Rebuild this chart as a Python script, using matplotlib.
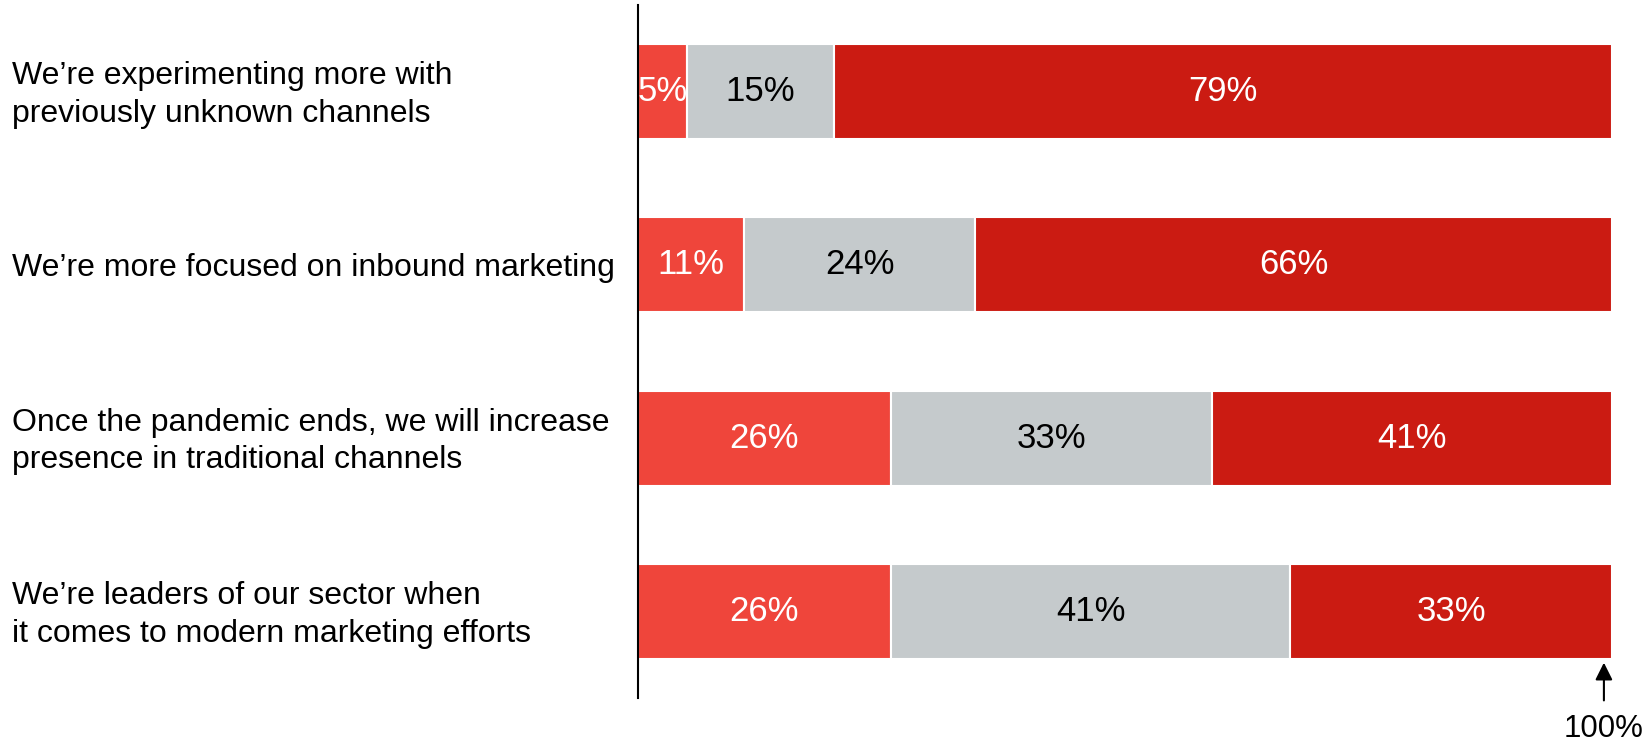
import matplotlib
matplotlib.use("Agg")
import matplotlib.pyplot as plt
import matplotlib.transforms as mtransforms
import pandas as pd

plt.rcParams['font.family'] = ['Liberation Sans', 'DejaVu Sans']

## Survey statements and answer shares (percent)
statements = [
    "We\u2019re experimenting more with\npreviously unknown channels",
    "We\u2019re more focused on inbound marketing",
    "Once the pandemic ends, we will increase\npresence in traditional channels",
    "We\u2019re leaders of our sector when\nit comes to modern marketing efforts",
]
disagree = [5, 11, 26, 26]
neutral = [15, 24, 33, 41]
agree = [79, 66, 41, 33]

seg_colors = ["#EF453B", "#C5CACC", "#CB1B12"]
label_colors = ["white", "black", "white"]

shares = pd.DataFrame({"disagree": disagree, "neutral": neutral, "agree": agree})
# 100% stacked: scale each row so it fills the full width
shares_norm = shares.div(shares.sum(axis=1), axis=0) * 100

fig = plt.figure(figsize=(16.5, 7.48), dpi=100)
ax = fig.add_axes([637.7 / 1650, 1 - 698 / 748, (1611.7 - 637.7) / 1650, 693 / 748])

shares_norm.plot(kind='barh', stacked=True, ax=ax, color=seg_colors, width=0.548,
                 edgecolor='white', linewidth=1.5, legend=False)

ax.set_xlim(0, 100)
ax.set_ylim(3.5, -0.5)

for container, col, tc in zip(ax.containers, shares.columns, label_colors):
    ax.bar_label(container, labels=[f"{v}%" for v in shares[col]], label_type='center',
                 color=tc, fontsize=25)

# statements on the far left, aligned to the figure edge
trans = mtransforms.blended_transform_factory(fig.transFigure, ax.transData)
for i, s in enumerate(statements):
    ax.text(12 / 1650, i + 0.02, s, transform=trans, ha='left', va='center', fontsize=23,
            color='black', linespacing=1.32)

ax.set_yticks([])
ax.set_xticks([])
for side in ['top', 'right', 'bottom']:
    ax.spines[side].set_visible(False)
ax.spines['left'].set_linewidth(1.5)
ax.spines['left'].set_color('black')

# marker for the 100% end of the bars
ax.annotate("", xy=(99.2, 3.28), xytext=(99.2, 3.53),
            arrowprops=dict(arrowstyle='-|>', color='black', lw=1.5, mutation_scale=26),
            annotation_clip=False)
ax.text(99.2, 3.59, "100%", ha='center', va='top', fontsize=22.5, clip_on=False)

plt.savefig("out.png", dpi=100)
